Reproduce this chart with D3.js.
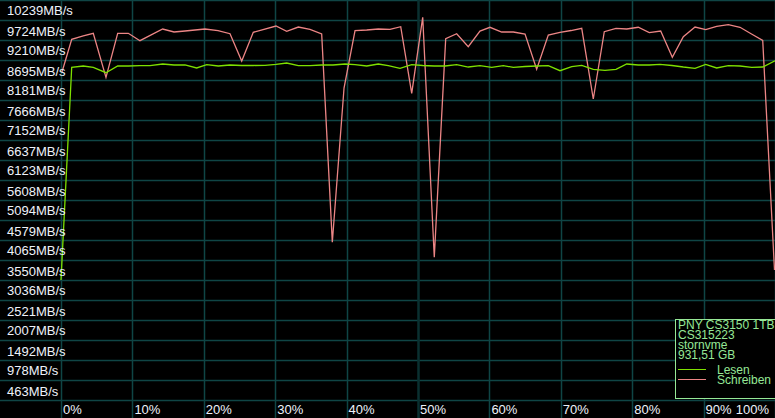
<!DOCTYPE html>
<html><head><meta charset="utf-8">
<script src="https://cdn.jsdelivr.net/npm/d3@7"></script>
<style>
html,body{margin:0;padding:0;background:#000;overflow:hidden}
svg{display:block}
text{font-family:"Liberation Sans",Arial,sans-serif}
</style></head>
<body>
<svg id="c" width="775" height="418"></svg>
<script>
const yTickLabels = [10239, 9724, 9210, 8695, 8181, 7666, 7152, 6637, 6123, 5608, 5094, 4579, 4065, 3550, 3036, 2521, 2007, 1492, 978, 463];
const xTickLabels = [0, 10, 20, 30, 40, 50, 60, 70, 80, 90, 100];

const schreibenPct = [0.14,1.5,3.12,4.52,6.3,7.94,9.43,11.06,14.24,15.83,17.37,20.17,21.99,23.67,25.31,26.93,30.11,31.61,33.24,34.87,36.51,38.0,39.64,41.18,42.82,44.44,46.08,47.58,49.12,50.66,52.28,53.88,55.42,57.04,58.68,60.08,61.72,63.35,64.99,66.62,68.25,69.89,71.43,72.93,74.55,76.09,77.73,79.23,80.85,82.39,83.99,85.62,87.16,88.8,90.29,91.83,93.46,95.1,96.71,98.28,99.93];
const schreibenMBs = [8644,9485,9570,9639,8507,9639,9639,9449,9750,9673,9698,9750,9706,9629,8927,9665,9827,9690,9801,9742,9621,4263,8232,9706,9724,9750,9742,9809,8096,10051,3877,9500,9629,9295,9698,9794,9673,9673,9621,8713,9595,9665,9711,9768,7949,9680,9768,9750,9794,9655,9698,9022,9552,9801,9732,9819,9860,9794,9621,9459,3550];

const lesenPct = [0,1.5,3.12,4.52,6.3,7.94,9.43,11.06,12.46,14.24,15.83,17.37,19.0,20.41,22.03,23.67,25.31,26.93,28.57,30.11,31.61,33.24,34.87,36.51,38.1,39.78,41.18,42.82,44.44,45.84,47.48,49.12,50.66,52.28,53.78,55.42,57.04,58.68,60.32,61.95,63.35,64.99,66.62,68.25,69.89,71.53,72.93,74.55,76.19,77.73,79.23,80.85,82.39,83.89,85.57,87.16,88.8,90.29,91.83,93.46,95.1,96.74,98.28,100];
const lesenMBs = [3293,8764,8798,8764,8626,8798,8798,8806,8806,8849,8824,8824,8747,8832,8798,8824,8811,8811,8815,8841,8875,8806,8806,8824,8824,8849,8836,8798,8849,8806,8739,8832,8811,8798,8798,8832,8772,8806,8764,8806,8764,8785,8798,8806,8677,8780,8815,8713,8687,8713,8849,8824,8824,8841,8811,8772,8739,8841,8747,8806,8798,8764,8772,8934];

const legendInfo = ["PNY CS3150 1TB SSD", "CS315223", "stornvme", "931,51 GB"];
const seriesNames = ["Lesen", "Schreiben"];

const W = 775, H = 418;
const svg = d3.select("#c");
svg.append("rect").attr("width", W).attr("height", H).attr("fill", "#000");

const x = d3.scaleLinear().domain([0, 100]).range([61, 775]);
const y = d3.scaleLinear().domain([0, 10496]).range([408, 0]);
const half = (y(yTickLabels[1]) - y(yTickLabels[0])) / 2;

const grid = svg.append("g");
const hLines = [y(yTickLabels[0]) - half].concat(yTickLabels.map(t => y(t) + half));
grid.selectAll("line.h").data(hLines).join("line")
  .attr("x1", 0).attr("x2", W).attr("y1", d => Math.round(d) + 0.5).attr("y2", d => Math.round(d) + 0.5)
  .attr("stroke", "#0f4545").attr("stroke-width", 1.5);
grid.selectAll("line.v").data(xTickLabels).join("line")
  .attr("x1", d => Math.round(x(d)) + 0.5).attr("x2", d => Math.round(x(d)) + 0.5)
  .attr("y1", 0).attr("y2", H)
  .attr("stroke", d => d === 50 ? "#0a3030" : "#0f4545")
  .attr("stroke-width", d => d === 50 ? 2.5 : 1.5);

const line = d3.line().x(d => x(d[0])).y(d => y(d[1]));
const lesen = lesenPct.map((p, i) => [p, lesenMBs[i]]);
const schreiben = schreibenPct.map((p, i) => [p, schreibenMBs[i]]);

svg.append("path").datum(schreiben).attr("d", line)
  .attr("fill", "none").attr("stroke", "#ec8585").attr("stroke-width", 1.3);
svg.append("path").datum(lesen).attr("d", line)
  .attr("fill", "none").attr("stroke", "#7ee000").attr("stroke-width", 1.3);

svg.append("g").selectAll("text").data(yTickLabels).join("text")
  .attr("x", 7).attr("y", d => y(d) + 5.5)
  .attr("fill", "#eef2fa").attr("font-size", 13)
  .text(d => d + "MB/s");

svg.append("g").selectAll("text").data(xTickLabels).join("text")
  .attr("x", d => d === 100 ? 769 : x(d) + 2)
  .attr("text-anchor", d => d === 100 ? "end" : "start")
  .attr("y", 413.5)
  .attr("fill", "#eef2fa").attr("font-size", 13)
  .text(d => d + "%");

// legend box
const lg = svg.append("g");
svg.append("clipPath").attr("id", "lgclip").append("rect")
  .attr("x", 676).attr("y", 320).attr("width", 99).attr("height", 78);
lg.append("rect").attr("x", 675.5).attr("y", 319.5).attr("width", 120).attr("height", 79)
  .attr("fill", "#000").attr("stroke", "#96e896").attr("stroke-width", 1);
const lt = lg.append("g").attr("clip-path", "url(#lgclip)");
lt.selectAll("text.info").data(legendInfo).join("text")
  .attr("x", 678).attr("y", (d, i) => 329 + i * 10)
  .attr("fill", "#96e896").attr("font-size", 12)
  .text(d => d);
const legColors = ["#7ee000", "#ec8585"];
seriesNames.forEach((n, i) => {
  lt.append("line").attr("x1", 678).attr("x2", 706)
    .attr("y1", 369.5 + i * 10).attr("y2", 369.5 + i * 10)
    .attr("stroke", legColors[i]).attr("stroke-width", 1);
  lt.append("text").attr("x", 717).attr("y", 373.5 + i * 10)
    .attr("fill", "#96e896").attr("font-size", 12).text(n);
});
</script>
</body></html>
